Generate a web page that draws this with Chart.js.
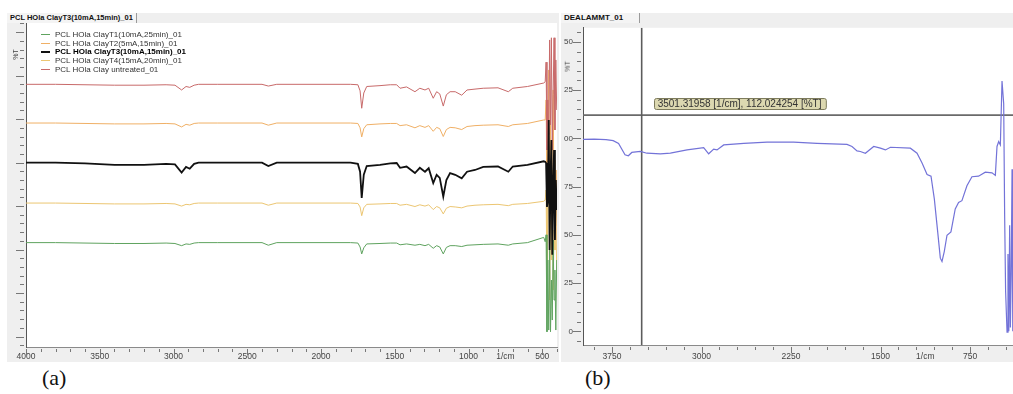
<!DOCTYPE html>
<html>
<head>
<meta charset="utf-8">
<script src="https://cdn.jsdelivr.net/npm/chart.js@4.4.0/dist/chart.umd.min.js"></script>
<style>
  body { margin: 0; background: #fff; font-family: 'Liberation Sans', Arial, sans-serif; }
  #page { position: relative; width: 1013px; height: 394px; overflow: hidden; }
  .frame { position: absolute; background: #efefef; }
  .frame canvas { position: absolute; left: 0; top: 0; }
  .tab { position: absolute; left: 0; top: 0; height: 10px; line-height: 10px; padding-left: 3px;
         font-size: 7.5px; font-weight: bold; color: #111; white-space: nowrap;
         border-right: 1px solid #9a9a9a; background: #f4f4f4; box-sizing: border-box; }
  .pct { position: absolute; font-size: 7px; color: #444; transform: rotate(-90deg); }
  .legend { position: absolute; left: 34px; top: 18px; font-size: 8px; color: #333; }
  .legend div { height: 8.7px; line-height: 8.7px; white-space: nowrap; }
  .legend i { display: inline-block; width: 9px; height: 0; border-top: 1px solid; vertical-align: middle; margin-right: 5px; }
  .cap { position: absolute; font-family: 'Liberation Serif', 'Times New Roman', serif; font-size: 22px; line-height: 24px; color: #111; }
</style>
</head>
<body>
<div id="page">
  <div class="frame" style="left:7px;top:13px;width:552px;height:349px;">
    <canvas id="chartA" width="552" height="349"></canvas>
    <div class="tab" style="width:130px;">PCL HOla ClayT3(10mA,15min)_01</div>
    <div class="pct" style="left:3px;top:38px;">%T</div>
    <div class="legend" id="legendA"></div>
  </div>
  <div class="frame" style="left:561px;top:13px;width:452px;height:349px;">
    <canvas id="chartB" width="452" height="349"></canvas>
    <div class="tab" style="width:79px;font-size:8px;">DEALAMMT_01</div>
    <div class="pct" style="left:1px;top:50px;">%T</div>
  </div>
  <div class="cap" style="left:42px;top:366px;">(a)</div>
  <div class="cap" style="left:585px;top:366px;">(b)</div>
</div>

<script>
// ---------- data: panel (a) ----------
const wavenumbersA = [4000, 3800, 3600, 3400, 3200, 3050, 2990, 2945, 2915, 2890, 2860, 2830, 2700, 2400, 2357, 2300,
  2000, 1800, 1750, 1735, 1724, 1710, 1690, 1600, 1530, 1487, 1464, 1420, 1363, 1330, 1295, 1270, 1239, 1216, 1195,
  1171, 1150, 1125, 1090, 1046, 1010, 956, 900, 800, 730, 700, 600, 490,
  480, 474, 468, 462, 456, 450, 444, 438, 432, 426, 420, 414, 408, 402];

const clayT1 = [21.6, 21.6, 21.5, 21.4, 21.4, 21.5, 21.4, 20.9, 21.3, 21.2, 21.5, 21.6, 21.6, 21.6, 21.0, 21.6,
  21.6, 21.6, 21.5, 20.6, 19.0, 20.4, 21.3, 21.4, 21.5, 21.5, 21.1, 21.3, 21.0, 21.2, 20.9, 21.2, 20.3, 20.9, 20.6,
  19.0, 20.5, 20.9, 20.9, 20.7, 21.0, 21.1, 21.2, 21.3, 21.0, 21.3, 21.6, 22.8,
  21.8, 23.4, 1.1, 17.6, 1.5, 19.9, 1.1, 13.0, 3.8, 22.2, 8.4, 15.3, 1.5, 17.6];

const clayT2 = [49.1, 49.1, 49.0, 48.9, 48.9, 49.0, 48.9, 48.2, 48.8, 48.6, 49.0, 49.1, 49.1, 49.1, 48.6, 49.1,
  49.1, 49.1, 49.0, 48.0, 45.9, 47.8, 48.7, 48.9, 49.0, 49.0, 48.5, 48.7, 48.0, 48.5, 48.1, 48.5, 47.2, 48.1, 47.8,
  46.0, 47.6, 48.1, 48.0, 47.6, 48.3, 48.5, 48.6, 48.7, 48.3, 48.7, 49.0, 49.8,
  49.8, 54.4, 33.7, 45.2, 61.3, 31.4, 49.8, 24.5, 42.9, 56.7, 29.1, 40.6, 22.2, 38.3];

const clayT3 = [40.0, 40.0, 39.8, 39.5, 39.5, 39.7, 39.6, 37.7, 39.0, 38.6, 39.7, 40.0, 40.0, 40.0, 39.2, 40.0,
  40.0, 40.0, 39.7, 37.9, 31.9, 37.2, 39.2, 39.5, 39.8, 39.9, 38.8, 39.1, 37.6, 38.8, 37.9, 38.7, 35.3, 37.2, 36.5,
  32.2, 36.0, 37.6, 37.2, 36.4, 37.9, 38.3, 39.0, 39.1, 37.9, 39.1, 39.5, 40.3,
  40.2, 39.9, 29.8, 31.4, 49.8, 19.9, 36.0, 45.2, 18.8, 33.7, 42.9, 22.2, 36.0, 29.1];

const clayT4 = [30.7, 30.7, 30.6, 30.5, 30.5, 30.6, 30.5, 30.0, 30.4, 30.3, 30.6, 30.7, 30.7, 30.7, 30.2, 30.7,
  30.7, 30.7, 30.6, 29.8, 27.8, 29.6, 30.4, 30.5, 30.6, 30.6, 30.2, 30.4, 29.9, 30.3, 30.0, 30.3, 29.2, 29.9, 29.6,
  28.2, 29.5, 29.9, 29.8, 29.6, 30.0, 30.2, 30.3, 30.4, 30.1, 30.4, 30.6, 31.1,
  31.4, 33.7, 13.0, 28.0, 42.9, 8.4, 26.8, 17.6, 38.3, 10.7, 24.5, 19.9, 31.4, 13.0];

const clayUntreated = [58.0, 58.0, 57.9, 57.8, 57.8, 57.9, 57.8, 56.7, 57.5, 57.3, 57.8, 58.0, 58.0, 58.0, 57.6, 58.0,
  58.0, 58.0, 57.9, 56.5, 52.5, 56.0, 57.5, 57.7, 57.9, 57.9, 57.1, 57.4, 56.3, 57.1, 56.7, 57.1, 54.8, 56.3, 55.8,
  53.0, 55.6, 56.3, 56.3, 55.5, 56.7, 56.9, 57.1, 57.2, 56.3, 57.1, 57.5, 58.3,
  58.6, 63.1, 42.9, 54.4, 46.4, 68.2, 48.7, 68.7, 42.9, 55.6, 68.7, 47.5, 63.6, 52.1];

const seriesNamesA = ['PCL HOla ClayT1(10mA,25min)_01', 'PCL HOla ClayT2(5mA,15min)_01', 'PCL HOla ClayT3(10mA,15min)_01',
  'PCL HOla ClayT4(15mA,20min)_01', 'PCL HOla Clay untreated_01'];
const xTickLabelsA = [4000, 3500, 3000, 2500, 2000, 1500, 1000, 500];
const unitTickA = 750;

// ---------- data: panel (b) ----------
const wavenumbersB = [3993, 3900, 3800, 3740, 3695, 3641, 3613, 3584, 3513, 3457, 3345, 3261, 3121, 2982, 2940, 2898,
  2870, 2814, 2646, 2451, 2228, 2032, 1781, 1739, 1697, 1669, 1627, 1557, 1501, 1459, 1417, 1250, 1194, 1152, 1110,
  1077, 1049, 1021, 999, 985, 966, 943, 910, 874, 846, 818, 776, 734, 679, 622, 566, 538, 524, 510, 496,
  482, 468, 460, 452, 440, 432, 425, 418, 412, 405, 398, 392];
const transmittanceB = [99.5, 99.6, 99.3, 98.8, 97.4, 91.5, 91.0, 92.7, 93.2, 92.3, 92.0, 92.3, 94.0, 95.2, 92.0, 94.4,
  94.0, 96.6, 97.4, 98.0, 98.0, 97.4, 96.9, 95.8, 93.5, 93.2, 92.3, 95.8, 94.9, 94.0, 95.4, 94.9, 92.3, 87.2, 81.3,
  80.4, 68.5, 51.5, 37.9, 36.2, 41.3, 49.8, 51.5, 63.4, 66.8, 67.7, 75.4, 80.1, 80.4, 82.5, 82.1, 80.8, 95.8, 98.3, 96.6,
  129.7, 117.9, 60.0, 20.9, -0.4, 40, 0, 55, 2, 30, 84, 0];

const cursorWavenumber = 3501.31958;
const cursorTransmittance = 112.024254;
const cursorText = '3501.31958 [1/cm], 112.024254 [%T]';
const yTickValuesB = [150, 125, 100, 75, 50, 25, 0];
const yTickLabelsB = ['50', '25', '00', '75', '50', '25', '0'];
const xTickLabelsB = [3750, 3000, 2250, 1500, 750];
const unitTickB = 1125;

// ---------- helpers ----------
const FONT = "'Liberation Sans', Arial, sans-serif";
const toPoints = (xs, ys) => xs.map((x, i) => ({ x: x, y: ys[i] }));
const range = (from, to, step) => { const out = []; for (let v = from; v <= to + 1e-9; v += step) out.push(+v.toFixed(3)); return out; };

const plotBackground = {
  id: 'plotBackground',
  beforeDraw(chart) {
    const { ctx, chartArea: a } = chart;
    ctx.save();
    ctx.fillStyle = '#ffffff';
    ctx.fillRect(a.left, a.top, a.right - a.left, a.bottom - a.top);
    ctx.restore();
  }
};

// small tick marks outside the plot, longer where the tick carries a label
function makeTickMarks(isMajorX, isMajorY, skipX) {
  return {
    id: 'tickMarks',
    afterDraw(chart) {
      const { ctx } = chart;
      const xs = chart.scales.x, ys = chart.scales.y;
      ctx.save();
      ctx.strokeStyle = '#777';
      ctx.lineWidth = 1;
      ctx.beginPath();
      xs.ticks.forEach(t => {
        if (skipX(t.value)) return;
        const px = Math.round(xs.getPixelForValue(t.value)) + 0.5;
        const len = isMajorX(t.value) ? 6 : 3;
        ctx.moveTo(px, xs.top + 2);
        ctx.lineTo(px, xs.top + 2 + len);
      });
      ys.ticks.forEach(t => {
        const py = Math.round(ys.getPixelForValue(t.value)) + 0.5;
        const len = isMajorY(t.value) ? 8 : 4;
        ctx.moveTo(ys.right - 2, py);
        ctx.lineTo(ys.right - 2 - len, py);
      });
      ctx.stroke();
      ctx.restore();
    }
  };
}

// ---------- panel (a) ----------
const seriesA = [
  { name: seriesNamesA[0], values: clayT1, color: '#5fa35f', width: 1, order: 2 },
  { name: seriesNamesA[1], values: clayT2, color: '#f0b066', width: 1, order: 3 },
  { name: seriesNamesA[2], values: clayT3, color: '#111111', width: 1.8, order: 0 },
  { name: seriesNamesA[3], values: clayT4, color: '#ecc672', width: 1, order: 4 },
  { name: seriesNamesA[4], values: clayUntreated, color: '#c86a6a', width: 1, order: 1 }
];

document.getElementById('legendA').innerHTML = seriesA.map((s, i) =>
  `<div style="${i === 2 ? 'font-weight:bold;color:#000;' : ''}"><i style="border-top-color:${s.color};border-top-width:${i === 2 ? 2 : 1}px"></i>${s.name}</div>`
).join('');

new Chart(document.getElementById('chartA'), {
  type: 'line',
  data: {
    datasets: seriesA.map(s => ({
      label: s.name,
      data: toPoints(wavenumbersA, s.values),
      borderColor: s.color,
      borderWidth: s.width,
      order: s.order,
      pointRadius: 0,
      tension: 0,
      fill: false
    }))
  },
  options: {
    responsive: false,
    animation: false,
    layout: { padding: { top: 10, right: 2, left: 0, bottom: 0 } },
    plugins: { legend: { display: false }, tooltip: { enabled: false } },
    scales: {
      x: {
        type: 'linear', reverse: true, min: 400, max: 4000,
        afterBuildTicks: s => { s.ticks = range(400, 4000, 100).concat([unitTickA]).map(v => ({ value: v })); },
        afterFit: s => { s.height = 15; },
        grid: { display: true, drawOnChartArea: false, drawTicks: false },
        border: { display: true, color: '#8a8a8a', width: 1 },
        ticks: {
          autoSkip: false, maxRotation: 0, padding: 5, color: '#444',
          font: { family: FONT, size: 8.5 },
          callback: v => v === unitTickA ? '1/cm' : (xTickLabelsA.includes(v) ? String(v) : '')
        }
      },
      y: {
        type: 'linear', min: -2.4, max: 72.1,
        afterBuildTicks: s => { s.ticks = range(-2, 72, 2).map(v => ({ value: v })); },
        afterFit: s => { s.width = 19; },
        grid: { display: true, drawOnChartArea: false, drawTicks: false },
        border: { display: true, color: '#555', width: 1 },
        ticks: { display: false }
      }
    }
  },
  plugins: [plotBackground, makeTickMarks(v => xTickLabelsA.includes(v), v => v % 10 === 0, v => v === unitTickA)]
});

// ---------- panel (b) ----------
const cursorLabel = {
  id: 'cursorLabel',
  afterDatasetsDraw(chart) {
    const { ctx } = chart;
    const x = chart.scales.x.getPixelForValue(cursorWavenumber) + 12;
    const y = chart.scales.y.getPixelForValue(cursorTransmittance) - 17;
    ctx.save();
    ctx.font = '10px ' + FONT;
    const w = ctx.measureText(cursorText).width + 8;
    ctx.fillStyle = '#dcd8b0';
    ctx.strokeStyle = '#7d7b5c';
    ctx.lineWidth = 1;
    ctx.beginPath();
    ctx.roundRect(Math.round(x) + 0.5, Math.round(y) + 0.5, w, 11, 2);
    ctx.fill();
    ctx.stroke();
    ctx.fillStyle = '#333';
    ctx.textBaseline = 'middle';
    ctx.fillText(cursorText, x + 4, y + 6);
    ctx.restore();
  }
};

const xMinB = 390, xMaxB = 3993, yMinB = -7.1, yMaxB = 157.3;

new Chart(document.getElementById('chartB'), {
  type: 'line',
  data: {
    datasets: [
      { label: 'DEALAMMT_01', data: toPoints(wavenumbersB, transmittanceB), borderColor: '#7373d8', borderWidth: 1.2, pointRadius: 0, tension: 0, order: 0 },
      { label: 'cursor x', data: [{ x: cursorWavenumber, y: yMinB }, { x: cursorWavenumber, y: yMaxB }], borderColor: '#5c5c5c', borderWidth: 1.6, pointRadius: 0, order: 1 },
      { label: 'cursor y', data: [{ x: xMaxB, y: cursorTransmittance }, { x: xMinB, y: cursorTransmittance }], borderColor: '#6a6a6a', borderWidth: 1.6, pointRadius: 0, order: 1 }
    ]
  },
  options: {
    responsive: false,
    animation: false,
    layout: { padding: { top: 10, right: 0, left: 0, bottom: 0 } },
    plugins: { legend: { display: false }, tooltip: { enabled: false } },
    scales: {
      x: {
        type: 'linear', reverse: true, min: xMinB, max: xMaxB,
        afterBuildTicks: s => { s.ticks = range(450, 3900, 150).concat([unitTickB]).map(v => ({ value: v })); },
        afterFit: s => { s.height = 17; },
        grid: { display: true, drawOnChartArea: false, drawTicks: false },
        border: { display: true, color: '#8a8a8a', width: 1 },
        ticks: {
          autoSkip: false, maxRotation: 0, padding: 7, color: '#444',
          font: { family: FONT, size: 8.5 },
          callback: v => v === unitTickB ? '1/cm' : (xTickLabelsB.includes(v) ? String(v) : '')
        }
      },
      y: {
        type: 'linear', min: yMinB, max: yMaxB,
        afterBuildTicks: s => { s.ticks = range(-5, 155, 5).map(v => ({ value: v })); },
        afterFit: s => { s.width = 22; },
        grid: { display: true, drawOnChartArea: false, drawTicks: false },
        border: { display: true, color: '#555', width: 1 },
        ticks: {
          autoSkip: false, padding: 10, color: '#444',
          font: { family: FONT, size: 8 },
          callback: v => { const i = yTickValuesB.indexOf(v); return i >= 0 ? yTickLabelsB[i] : ''; }
        }
      }
    }
  },
  plugins: [plotBackground, makeTickMarks(v => xTickLabelsB.includes(v), v => yTickValuesB.includes(v), v => v === unitTickB), cursorLabel]
});
</script>
</body>
</html>
